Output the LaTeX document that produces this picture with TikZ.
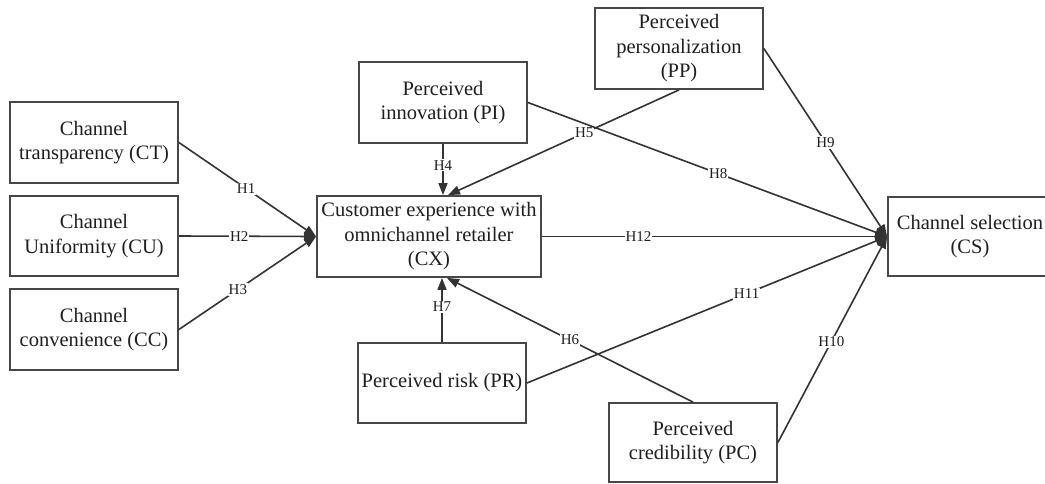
\documentclass[tikz,border=0pt]{standalone}
\usepackage{fontspec}
\setmainfont{Liberation Serif}
\usetikzlibrary{arrows.meta}
\begin{document}
\begin{tikzpicture}[x=1pt,y=-1pt,
  box/.style={draw=black!72, line width=1.8pt, rectangle, inner sep=0pt, align=center,
    text=black!88, font=\fontsize{20.5}{24.5}\selectfont},
  lab/.style={fill=white, inner sep=1pt, text=black!88, font=\fontsize{15}{15}\selectfont},
  arr/.style={draw=black!80, line width=1.6pt, -{Triangle[length=12pt,width=9pt]}}]
\useasboundingbox (0,0) rectangle (1045,483);
\fill[white] (0,0) rectangle (1045,483);
\begin{scope}
\clip (0,0) rectangle (1045,483);
\node[box, minimum width=168pt, minimum height=81pt] (CT) at (94,142.5) {Channel\\transparency (CT)};
\node[box, minimum width=168pt, minimum height=80pt] (CU) at (94,236) {Channel\\Uniformity (CU)};
\node[box, minimum width=168pt, minimum height=81pt] (CC) at (94,329.5) {Channel\\convenience (CC)};
\node[box, minimum width=224pt, minimum height=81pt] (CX) at (429,236.5) {Customer experience with\\omnichannel retailer\\(CX)};
\node[box, minimum width=168pt, minimum height=81pt] (PI) at (443,102.5) {Perceived\\innovation (PI)};
\node[box, minimum width=168pt, minimum height=81pt] (PP) at (679,48.5) {Perceived\\personalization\\(PP)};
\node[box, minimum width=164pt, minimum height=79pt] (CS) at (970,236.5) {Channel selection\\(CS)};
\node[box, minimum width=168pt, minimum height=80pt] (PR) at (442,383) {Perceived risk (PR)};
\node[box, minimum width=168pt, minimum height=79pt] (PC) at (693,442.5) {Perceived\\credibility (PC)};

\coordinate (cxT1) at (PI.south |- CX.north);
\coordinate (cxT2) at ([xshift=19pt]CX.north);
\coordinate (cxB1) at (PR.north |- CX.south);
\coordinate (cxB2) at ([xshift=18pt]CX.south);

\draw[arr] (CT.east) -- node[lab, pos=0.49] {H1} (CX.west);
\draw[arr] (CU.east) -- node[lab, pos=0.44] {H2} (CX.west);
\draw[arr] (CC.east) -- node[lab, pos=0.43] {H3} (CX.west);
\draw[arr] (PI.south) -- node[lab, pos=0.42] {H4} (cxT1);
\draw[arr] (PP.south) -- node[lab, pos=0.41] {H5} (cxT2);
\draw[arr] (PC.north) -- node[lab, pos=0.5] {H6} (cxB2);
\draw[arr] (PR.north) -- node[lab, pos=0.55] {H7} (cxB1);
\draw[arr] (PI.east) -- node[lab, pos=0.53] {H8} (CS.west);
\draw[arr] (PP.east) -- node[lab, pos=0.5] {H9} (CS.west);
\draw[arr] (PC.east) -- node[lab, pos=0.49] {H10} (CS.west);
\draw[arr] (PR.east) -- node[lab, pos=0.61] {H11} (CS.west);
\draw[arr] (CX.east) -- node[lab, pos=0.28] {H12} (CS.west);
\end{scope}
\end{tikzpicture}
\end{document}
